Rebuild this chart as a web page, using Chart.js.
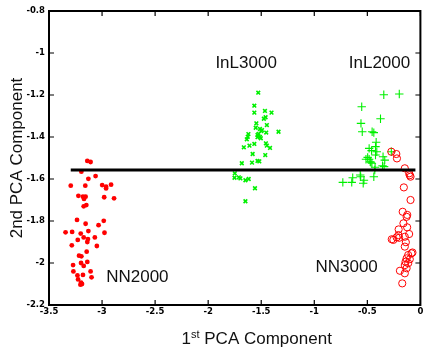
<!DOCTYPE html>
<html>
<head>
<meta charset="utf-8">
<script src="https://cdn.jsdelivr.net/npm/chart.js@4/dist/chart.umd.min.js"></script>
<style>
  html, body { margin: 0; padding: 0; background: #fff; }
  #wrap { width: 426px; height: 351px; position: relative; }
</style>
</head>
<body>
<div id="wrap"><canvas id="c"></canvas></div>
<script>
// ---- data ----
const xTickValues = [-3.5, -3, -2.5, -2, -1.5, -1, -0.5, 0];
const xTickLabels = ['-3.5', '-3', '-2.5', '-2', '-1.5', '-1', '-0.5', '0'];
const yTickValues = [-2.2, -2, -1.8, -1.6, -1.4, -1.2, -1, -0.8];
const yTickLabels = ['-2.2', '-2', '-1.8', '-1.6', '-1.4', '-1.2', '-1', '-0.8'];

const nn2000 = [
  [-3.139,-1.514],[-3.108,-1.519],[-3.195,-1.565],[-3.129,-1.599],[-3.061,-1.586],[-3.295,-1.632],
  [-3.158,-1.632],[-2.999,-1.629],[-2.962,-1.637],[-2.962,-1.645],[-2.915,-1.627],[-3.223,-1.680],
  [-3.180,-1.684],[-3.170,-1.695],[-3.155,-1.684],[-2.980,-1.687],[-2.887,-1.692],[-3.173,-1.730],
  [-3.148,-1.724],[-3.236,-1.795],[-3.155,-1.813],[-2.984,-1.799],[-3.033,-1.820],[-3.344,-1.854],
  [-3.282,-1.852],[-3.201,-1.860],[-3.129,-1.848],[-2.977,-1.856],[-3.068,-1.878],[-3.229,-1.890],
  [-3.133,-1.886],[-3.139,-1.900],[-3.173,-1.878],[-3.285,-1.916],[-3.049,-1.919],[-3.145,-1.946],
  [-3.217,-1.965],[-3.195,-1.968],[-3.273,-2.010],[-3.198,-2.000],[-3.173,-2.014],[-3.139,-1.995],
  [-3.270,-2.040],[-3.232,-2.059],[-3.108,-2.040],[-3.180,-2.057],[-3.099,-2.068],[-3.226,-2.078],
  [-3.198,-2.094],[-3.189,-2.100],[-3.204,-2.103]
];
const inl3000 = [
  [-1.528,-1.189],[-1.565,-1.251],[-1.565,-1.284],[-1.465,-1.276],[-1.403,-1.284],[-1.459,-1.306],
  [-1.475,-1.313],[-1.546,-1.335],[-1.552,-1.356],[-1.447,-1.343],[-1.512,-1.362],[-1.493,-1.367],
  [-1.337,-1.375],[-1.453,-1.379],[-1.621,-1.386],[-1.627,-1.399],[-1.636,-1.411],[-1.535,-1.390],
  [-1.512,-1.399],[-1.535,-1.401],[-1.504,-1.406],[-1.565,-1.433],[-1.456,-1.430],[-1.447,-1.441],
  [-1.664,-1.449],[-1.611,-1.441],[-1.417,-1.452],[-1.581,-1.481],[-1.462,-1.486],[-1.535,-1.514],
  [-1.518,-1.516],[-1.683,-1.525],[-1.587,-1.522],[-1.749,-1.573],[-1.752,-1.594],[-1.711,-1.592],
  [-1.696,-1.597],[-1.649,-1.606],[-1.618,-1.600],[-1.559,-1.644],[-1.649,-1.706],[-1.525,-1.385],
  [-1.500,-1.372]
];
const inl2000 = [
  [-0.345,-1.199],[-0.199,-1.195],[-0.553,-1.256],[-0.376,-1.313],[-0.560,-1.335],[-0.548,-1.375],
  [-0.455,-1.375],[-0.439,-1.379],[-0.417,-1.425],[-0.423,-1.446],[-0.483,-1.454],[-0.460,-1.465],
  [-0.411,-1.470],[-0.423,-1.486],[-0.497,-1.497],[-0.513,-1.506],[-0.483,-1.506],[-0.467,-1.520],
  [-0.352,-1.494],[-0.336,-1.510],[-0.274,-1.470],[-0.357,-1.537],[-0.430,-1.557],[-0.342,-1.541],
  [-0.473,-1.518],[-0.457,-1.525],[-0.731,-1.616],[-0.647,-1.616],[-0.638,-1.594],[-0.539,-1.620],
  [-0.532,-1.606],[-0.563,-1.589],[-0.439,-1.589],[-0.427,-1.544],[-0.567,-1.581]
];
const nn3000 = [
  [-0.274,-1.470],[-0.227,-1.481],[-0.221,-1.502],[-0.147,-1.549],[-0.106,-1.573],[-0.093,-1.589],
  [-0.100,-1.582],[-0.156,-1.640],[-0.093,-1.700],[-0.167,-1.756],[-0.124,-1.771],[-0.130,-1.780],
  [-0.160,-1.811],[-0.205,-1.840],[-0.106,-1.862],[-0.147,-1.875],[-0.207,-1.867],[-0.224,-1.878],
  [-0.270,-1.887],[-0.255,-1.890],[-0.137,-1.901],[-0.147,-1.922],[-0.084,-1.954],[-0.115,-1.962],
  [-0.130,-1.978],[-0.100,-1.982],[-0.140,-1.994],[-0.115,-2.001],[-0.147,-2.010],[-0.130,-2.025],
  [-0.193,-2.037],[-0.147,-2.049],[-0.171,-2.097],[-0.075,-1.950],[-0.200,-1.880],[-0.125,-1.830]
];
const separatorLine = [[-3.295,-1.557],[-0.047,-1.557]];

const groupLabels = ['InL3000', 'InL2000', 'NN2000', 'NN3000'];
const groupLabelAnchors = [[-1.932,-1.071],[-0.675,-1.071],[-2.961,-2.092],[-0.989,-2.041]];

const xTitle = ['1', 'st', ' PCA Component'];
const yTitle = '2nd PCA Component';

// ---- chart ----
const toPts = arr => arr.map(p => ({x: p[0], y: p[1]}));
const TXT = '#111';

const framePlugin = {
  id: 'frame',
  afterDraw(chart) {
    const ctx = chart.ctx, a = chart.chartArea;
    const xs = chart.scales.x, ys = chart.scales.y;
    ctx.save();
    ctx.strokeStyle = '#000';
    ctx.lineWidth = 2;
    ctx.strokeRect(a.left, a.top, a.right - a.left, a.bottom - a.top);
    ctx.lineWidth = 1.2;
    ctx.beginPath();
    xs.ticks.forEach(t => {
      const p = xs.getPixelForValue(t.value);
      ctx.moveTo(p, a.bottom); ctx.lineTo(p, a.bottom - 5);
      ctx.moveTo(p, a.top); ctx.lineTo(p, a.top + 5);
    });
    ys.ticks.forEach(t => {
      const p = ys.getPixelForValue(t.value);
      ctx.moveTo(a.left, p); ctx.lineTo(a.left + 5, p);
      ctx.moveTo(a.right, p); ctx.lineTo(a.right - 5, p);
    });
    ctx.stroke();

    // group labels
    ctx.fillStyle = TXT;
    ctx.font = '17px "Liberation Sans", Arial, sans-serif';
    ctx.textBaseline = 'alphabetic';
    ctx.textAlign = 'left';
    groupLabels.forEach((t, i) => {
      const [x, y] = groupLabelAnchors[i];
      ctx.fillText(t, xs.getPixelForValue(x), ys.getPixelForValue(y));
    });

    // x-axis title with superscript
    const big = '17px "Liberation Sans", Arial, sans-serif';
    const small = '11px "Liberation Sans", Arial, sans-serif';
    ctx.font = big; const w0 = ctx.measureText(xTitle[0]).width;
    ctx.font = small; const w1 = ctx.measureText(xTitle[1]).width;
    ctx.font = big; const w2 = ctx.measureText(xTitle[2]).width;
    const total = w0 + w1 + w2;
    let x = (a.left + a.right) / 2 + 22 - total / 2;
    const base = 344;
    ctx.font = big; ctx.fillText(xTitle[0], x, base); x += w0;
    ctx.font = small; ctx.fillText(xTitle[1], x, base - 6); x += w1;
    ctx.font = big; ctx.fillText(xTitle[2], x, base);
    ctx.restore();
  }
};

const tickFont = { family: '"DejaVu Sans", sans-serif', size: 8.5, weight: 'bold' };

new Chart(document.getElementById('c'), {
  type: 'scatter',
  data: {
    datasets: [
      {
        label: 'line', data: toPts(separatorLine), showLine: true,
        borderColor: '#000', borderWidth: 3, pointRadius: 0, fill: false
      },
      {
        label: 'NN2000', data: toPts(nn2000), pointStyle: 'circle', pointRadius: 2.4,
        backgroundColor: '#ff0000', borderColor: '#ff0000', borderWidth: 0
      },
      {
        label: 'NN3000', data: toPts(nn3000), pointStyle: 'circle', pointRadius: 3.6,
        backgroundColor: 'rgba(0,0,0,0)', borderColor: '#ff0000', borderWidth: 1
      },
      {
        label: 'InL3000', data: toPts(inl3000), pointStyle: 'crossRot', pointRadius: 2.6,
        borderColor: '#00f000', backgroundColor: '#00f000', borderWidth: 1.6
      },
      {
        label: 'InL2000', data: toPts(inl2000), pointStyle: 'cross', pointRadius: 4.2,
        borderColor: '#00f000', backgroundColor: '#00f000', borderWidth: 1.1
      }
    ]
  },
  options: {
    responsive: true,
    maintainAspectRatio: false,
    animation: false,
    events: [],
    layout: { padding: { top: 11, right: 2, left: 0, bottom: 0 } },
    plugins: { legend: { display: false }, tooltip: { enabled: false }, title: { display: false } },
    scales: {
      x: {
        type: 'linear', min: -3.5, max: 0,
        afterBuildTicks: s => { s.ticks = xTickValues.map(v => ({ value: v })); },
        afterFit: s => { s.height = 46; },
        grid: { display: false, drawTicks: false },
        border: { display: false },
        ticks: {
          autoSkip: false, maxRotation: 0, padding: 2, color: '#000', font: tickFont,
          callback: (v, i) => xTickLabels[i]
        }
      },
      y: {
        type: 'linear', min: -2.2, max: -0.8,
        afterBuildTicks: s => { s.ticks = yTickValues.map(v => ({ value: v })); },
        afterFit: s => { s.width = 49; },
        grid: { display: false, drawTicks: false },
        border: { display: false },
        ticks: {
          autoSkip: false, padding: 4, color: '#000', font: tickFont,
          callback: (v, i) => yTickLabels[i]
        },
        title: {
          display: true, text: yTitle, color: TXT,
          font: { family: '"Liberation Sans", Arial, sans-serif', size: 17 },
          padding: { top: 7, bottom: 0 }
        }
      }
    }
  },
  plugins: [framePlugin]
});
</script>
</body>
</html>
